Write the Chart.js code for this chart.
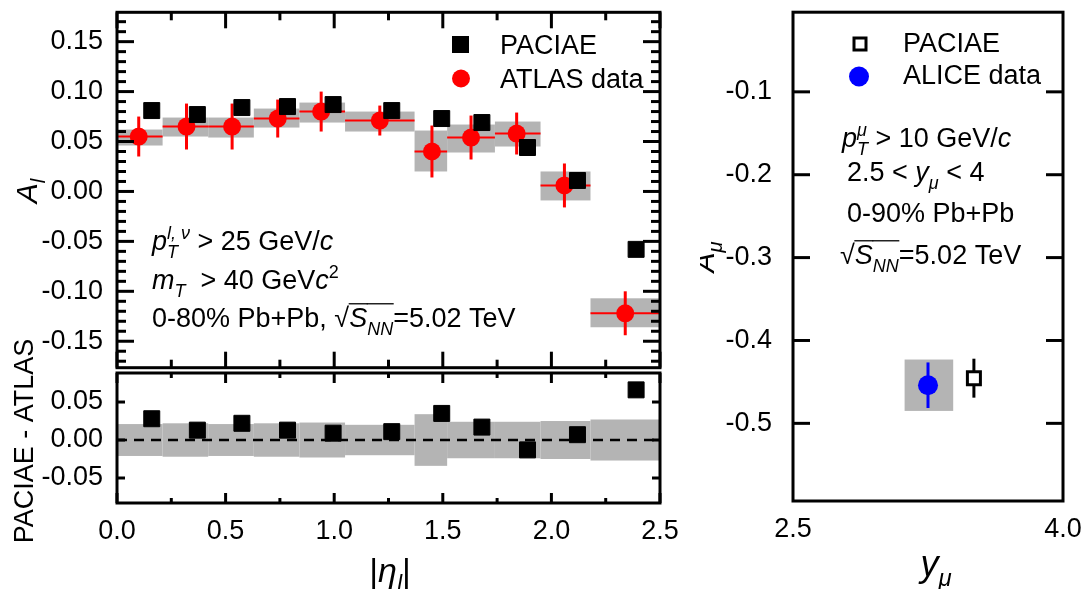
<!DOCTYPE html>
<html>
<head>
<meta charset="utf-8">
<script src="https://cdn.jsdelivr.net/npm/chart.js@4.4.1/dist/chart.umd.min.js"></script>
<style>
  body { margin: 0; background: #fff; width: 1084px; height: 589px; overflow: hidden; position: relative; }
  canvas { position: absolute; }
  #cTop { left: 0; top: 0; }
  #cBot { left: 0; top: 300px; }
  #cRight { left: 700px; top: 0; }
</style>
</head>
<body>
<canvas id="cTop" width="680" height="380"></canvas>
<canvas id="cBot" width="680" height="289"></canvas>
<canvas id="cRight" width="384" height="589"></canvas>
<script>
// ---- data ----
const etaBinLo = [0.00, 0.21, 0.42, 0.63, 0.84, 1.05, 1.37, 1.52, 1.74, 1.95, 2.18];
const etaBinHi = [0.21, 0.42, 0.63, 0.84, 1.05, 1.37, 1.52, 1.74, 1.95, 2.18, 2.50];
const atlasEta = [0.10, 0.32, 0.53, 0.74, 0.94, 1.21, 1.45, 1.63, 1.84, 2.06, 2.34];
const atlasA = [0.055, 0.065, 0.065, 0.073, 0.080, 0.071, 0.040, 0.054, 0.058, 0.006, -0.122];
const atlasStat = [0.020, 0.023, 0.023, 0.019, 0.020, 0.015, 0.026, 0.022, 0.021, 0.022, 0.022];
const atlasSysLo = [0.046, 0.055, 0.054, 0.064, 0.069, 0.060, 0.020, 0.039, 0.045, -0.009, -0.136];
const atlasSysHi = [0.062, 0.074, 0.074, 0.083, 0.089, 0.080, 0.061, 0.067, 0.070, 0.020, -0.107];
const paciaeEta = [0.16, 0.37, 0.575, 0.785, 0.995, 1.265, 1.495, 1.68, 1.89, 2.12, 2.39];
const paciaeA = [0.081, 0.077, 0.084, 0.085, 0.087, 0.081, 0.073, 0.069, 0.044, 0.011, -0.058];
const diffA = [0.028, 0.013, 0.022, 0.013, 0.009, 0.011, 0.035, 0.017, -0.013, 0.007, 0.066];
const diffBand = [0.021, 0.022, 0.021, 0.022, 0.023, 0.020, 0.034, 0.024, 0.024, 0.025, 0.027];
const zeroLineX = [0.0, 2.5];

const aliceY = [3.25];
const aliceA = [-0.454];
const aliceStat = [0.0275];
const aliceSysLo = [-0.485];
const aliceSysHi = [-0.423];
const aliceBinLo = [3.12];
const aliceBinHi = [3.39];
const paciaeMuY = [3.505];
const paciaeMuA = [-0.4455];
const paciaeMuErr = [0.0235];

// ticks
const topYTicks = [-0.15, -0.10, -0.05, 0.00, 0.05, 0.10, 0.15];
const botYTicks = [-0.05, 0.00, 0.05];
const etaTicks = [0.0, 0.5, 1.0, 1.5, 2.0, 2.5];
const etaMinor = [0.25, 0.75, 1.25, 1.75, 2.25];
const rightYTicks = [-0.5, -0.4, -0.3, -0.2, -0.1];
const rapTicks = [2.5, 4.0];

const FONT = '"Liberation Sans", Arial, sans-serif';
const FS = 27;
const RED = '#ff0000', BLUE = '#0000ff', GRAY = '#b4b4b4';

// ---- helpers ----
function layoutRich(ctx, parts, size) {
  const items = [];
  let cx = 0, hold = null;
  for (const [t, s] of parts) {
    const small = s.includes('b') || s.includes('p');
    const fs = small ? Math.round(size * 0.68) : size;
    const font = (s.includes('i') ? 'italic ' : '') + fs + 'px ' + FONT;
    ctx.font = font;
    const w = ctx.measureText(t).width;
    const dy = s.includes('b') ? size * 0.28 : s.includes('p') ? -size * 0.42 : 0;
    items.push({ t, font, x: cx, dy, w, over: s.includes('o') });
    if (s.includes('k')) { hold = w; }
    else { cx += hold !== null ? Math.max(hold, w) : w; hold = null; }
  }
  return { items, width: cx };
}
function drawRich(ctx, x, y, parts, size, center) {
  const L = layoutRich(ctx, parts, size);
  const x0 = center ? x - L.width / 2 : x;
  ctx.save();
  ctx.fillStyle = '#000';
  ctx.textAlign = 'left';
  ctx.textBaseline = 'alphabetic';
  for (const it of L.items) {
    ctx.font = it.font;
    ctx.fillText(it.t, x0 + it.x, y + it.dy);
    if (it.over) {
      ctx.strokeStyle = '#000';
      ctx.lineWidth = 1.3;
      ctx.beginPath();
      ctx.moveTo(x0 + it.x - 0.5, y - size * 0.86);
      ctx.lineTo(x0 + it.x + it.w + 0.5, y - size * 0.86);
      ctx.stroke();
    }
  }
  ctx.restore();
}
function drawRotated(ctx, x, y, parts, size) {
  ctx.save();
  ctx.translate(x, y);
  ctx.rotate(-Math.PI / 2);
  drawRich(ctx, 0, 0, parts, size, true);
  ctx.restore();
}
function seg(ctx, x0, y0, x1, y1) {
  ctx.beginPath(); ctx.moveTo(x0, y0); ctx.lineTo(x1, y1); ctx.stroke();
}
// frame with inward ticks
function drawFrame(chart, spec) {
  const { ctx, chartArea: a, scales: { x, y } } = chart;
  ctx.save();
  ctx.strokeStyle = '#000';
  ctx.lineWidth = 3;
  (spec.x || []).forEach(([vals, len]) => vals.forEach(v => {
    const px = x.getPixelForValue(v);
    if (spec.top) seg(ctx, px, a.top, px, a.top + len);
    if (spec.bottom) seg(ctx, px, a.bottom, px, a.bottom - len);
  }));
  (spec.y || []).forEach(([vals, len]) => vals.forEach(v => {
    const py = y.getPixelForValue(v);
    seg(ctx, a.left, py, a.left + len, py);
    seg(ctx, a.right, py, a.right - len, py);
  }));
  ctx.strokeRect(a.left, a.top, a.right - a.left, a.bottom - a.top);
  ctx.restore();
}
function yAxis(min, max, ticks, dec, width, pad) {
  return {
    type: 'linear', min, max,
    grid: { display: false, drawTicks: false }, border: { display: false },
    afterBuildTicks: s => { s.ticks = ticks.map(v => ({ value: v })); },
    afterFit: s => { s.width = width; s.paddingTop = 0; s.paddingBottom = 0; },
    ticks: { color: '#000', autoSkip: false, padding: pad, font: { family: FONT, size: FS }, callback: v => v.toFixed(dec) }
  };
}
function xAxis(min, max, ticks, dec, height, pad) {
  return {
    type: 'linear', position: 'bottom', min, max,
    grid: { display: false, drawTicks: false }, border: { display: false },
    afterBuildTicks: s => { s.ticks = ticks.map(v => ({ value: v })); },
    afterFit: s => { s.height = height; s.paddingLeft = 0; s.paddingRight = 0; },
    ticks: { color: '#000', autoSkip: false, maxRotation: 0, padding: pad, font: { family: FONT, size: FS }, callback: v => v.toFixed(dec) }
  };
}
const common = {
  responsive: false, animation: false, devicePixelRatio: 1, events: [],
  plugins: { legend: { display: false }, tooltip: { enabled: false } }
};
const pts = (xs, ys) => xs.map((v, i) => ({ x: v, y: ys[i] }));

const topMinorY = [];
for (let i = -17; i <= 17; i++) if (i % 5 !== 0) topMinorY.push(i / 100);

// ---- top panel ----
const topDecor = {
  id: 'topDecor',
  beforeDatasetsDraw(chart) {
    const { ctx, scales: { x, y } } = chart;
    ctx.save();
    ctx.fillStyle = GRAY;
    etaBinLo.forEach((lo, i) => {
      const x0 = x.getPixelForValue(lo), x1 = x.getPixelForValue(etaBinHi[i]);
      const y0 = y.getPixelForValue(atlasSysHi[i]), y1 = y.getPixelForValue(atlasSysLo[i]);
      ctx.fillRect(x0, y0, x1 - x0, y1 - y0);
    });
    ctx.strokeStyle = RED;
    atlasEta.forEach((v, i) => {
      const px = x.getPixelForValue(v), py = y.getPixelForValue(atlasA[i]);
      ctx.lineWidth = 2;
      seg(ctx, x.getPixelForValue(etaBinLo[i]), py, x.getPixelForValue(etaBinHi[i]), py);
      ctx.lineWidth = 3;
      seg(ctx, px, y.getPixelForValue(atlasA[i] + atlasStat[i]), px, y.getPixelForValue(atlasA[i] - atlasStat[i]));
    });
    ctx.restore();
  },
  afterDraw(chart) {
    const ctx = chart.ctx;
    drawFrame(chart, { top: true, bottom: true, x: [[etaTicks, 16], [etaMinor, 8]], y: [[topYTicks, 17], [topMinorY, 9]] });
    // legend
    ctx.save();
    ctx.fillStyle = '#000';
    ctx.fillRect(452, 36, 17, 17);
    ctx.fillStyle = RED;
    ctx.beginPath(); ctx.arc(461, 78.5, 9, 0, Math.PI * 2); ctx.fill();
    ctx.restore();
    drawRich(ctx, 500, 54, [['PACIAE', '']], FS);
    drawRich(ctx, 500, 88, [['ATLAS data', '']], FS);
    // annotations
    drawRich(ctx, 152, 250, [['p', 'i'], ['l, ν', 'ipk'], ['T', 'ib'], [' > 25 GeV/', ''], ['c', 'i']], FS);
    drawRich(ctx, 152, 289, [['m', 'i'], ['T', 'ib'], ['  > 40 GeV', ''], ['c', 'i'], ['2', 'p']], FS);
    drawRich(ctx, 152, 327, [['0-80% Pb+Pb, ', ''], ['√', ''], ['S', 'io'], ['NN', 'ibo'], ['=5.02 TeV', '']], FS);
    drawRotated(ctx, 37, 191, [['A', 'i'], ['l', 'ib']], 30);
  }
};
new Chart(document.getElementById('cTop'), {
  type: 'scatter',
  data: {
    datasets: [
      { label: 'PACIAE', data: pts(paciaeEta, paciaeA), pointStyle: 'rect', pointRadius: 11.3,
        pointBackgroundColor: '#000', pointBorderColor: '#000', pointBorderWidth: 1, order: 0 },
      { label: 'ATLAS data', data: pts(atlasEta, atlasA), pointStyle: 'circle', pointRadius: 9,
        pointBackgroundColor: RED, pointBorderColor: RED, pointBorderWidth: 0, order: 1 }
    ]
  },
  options: {
    ...common,
    layout: { padding: { top: 10, right: 20, bottom: 7, left: 0 } },
    scales: {
      x: { type: 'linear', min: 0, max: 2.5, display: false },
      y: yAxis(-0.1765, 0.1794, topYTicks, 2, 117, 14)
    }
  },
  plugins: [topDecor]
});

// ---- ratio panel ----
const botDecor = {
  id: 'botDecor',
  beforeDatasetsDraw(chart) {
    const { ctx, scales: { x, y } } = chart;
    ctx.save();
    ctx.fillStyle = GRAY;
    etaBinLo.forEach((lo, i) => {
      const x0 = x.getPixelForValue(lo), x1 = x.getPixelForValue(etaBinHi[i]);
      const y0 = y.getPixelForValue(diffBand[i]), y1 = y.getPixelForValue(-diffBand[i]);
      ctx.fillRect(x0, y0, x1 - x0, y1 - y0);
    });
    ctx.restore();
  },
  afterDraw(chart) {
    const ctx = chart.ctx;
    drawFrame(chart, { top: true, bottom: true, x: [[etaTicks, 10], [etaMinor, 5]], y: [[botYTicks, 8]] });
    drawRotated(ctx, 33, 141, [['PACIAE - ATLAS', '']], FS);
    drawRich(ctx, 390, 282, [['|', ''], ['η', 'i'], ['l', 'ib'], ['|', '']], 34, true);
  }
};
new Chart(document.getElementById('cBot'), {
  type: 'scatter',
  data: {
    datasets: [
      { label: 'PACIAE - ATLAS', data: pts(paciaeEta, diffA), pointStyle: 'rect', pointRadius: 11.3,
        pointBackgroundColor: '#000', pointBorderColor: '#000', pointBorderWidth: 1, order: 0 },
      { type: 'line', label: 'zero', data: pts(zeroLineX, [0, 0]), borderColor: '#000', borderWidth: 2.5,
        borderDash: [10, 7], pointRadius: 0, order: 1 }
    ]
  },
  options: {
    ...common,
    layout: { padding: { top: 73, right: 20, bottom: 0, left: 0 } },
    scales: {
      x: xAxis(0, 2.5, etaTicks, 1, 86, 12),
      y: yAxis(-0.0829, 0.0882, botYTicks, 2, 117, 14)
    }
  },
  plugins: [botDecor]
});

// ---- right panel ----
const rightDecor = {
  id: 'rightDecor',
  beforeDatasetsDraw(chart) {
    const { ctx, scales: { x, y } } = chart;
    ctx.save();
    ctx.fillStyle = GRAY;
    aliceY.forEach((v, i) => {
      const x0 = x.getPixelForValue(aliceBinLo[i]), x1 = x.getPixelForValue(aliceBinHi[i]);
      const y0 = y.getPixelForValue(aliceSysHi[i]), y1 = y.getPixelForValue(aliceSysLo[i]);
      ctx.fillRect(x0, y0, x1 - x0, y1 - y0);
      ctx.strokeStyle = BLUE; ctx.lineWidth = 3;
      const px = x.getPixelForValue(v);
      seg(ctx, px, y.getPixelForValue(aliceA[i] + aliceStat[i]), px, y.getPixelForValue(aliceA[i] - aliceStat[i]));
    });
    ctx.strokeStyle = '#000'; ctx.lineWidth = 3;
    paciaeMuY.forEach((v, i) => {
      const px = x.getPixelForValue(v);
      seg(ctx, px, y.getPixelForValue(paciaeMuA[i] + paciaeMuErr[i]), px, y.getPixelForValue(paciaeMuA[i] - paciaeMuErr[i]));
    });
    ctx.restore();
  },
  afterDraw(chart) {
    const ctx = chart.ctx;
    drawFrame(chart, { y: [[rightYTicks, 17]] });
    ctx.save();
    ctx.strokeStyle = '#000'; ctx.lineWidth = 3;
    ctx.strokeRect(154, 38, 12, 12);
    ctx.fillStyle = BLUE;
    ctx.beginPath(); ctx.arc(159, 76.5, 10, 0, Math.PI * 2); ctx.fill();
    ctx.restore();
    drawRich(ctx, 203, 52, [['PACIAE', '']], FS);
    drawRich(ctx, 203, 84, [['ALICE data', '']], FS);
    drawRich(ctx, 142, 147, [['p', 'i'], ['μ', 'ipk'], ['T', 'ib'], [' > 10 GeV/', ''], ['c', 'i']], FS);
    drawRich(ctx, 147, 181, [['2.5 < ', ''], ['y', 'i'], ['μ', 'ib'], [' < 4', '']], FS);
    drawRich(ctx, 147, 222, [['0-90% Pb+Pb', '']], FS);
    drawRich(ctx, 140, 264, [['√', ''], ['S', 'io'], ['NN', 'ibo'], ['=5.02 TeV', '']], FS);
    drawRotated(ctx, 14, 257, [['A', 'i'], ['μ', 'ib']], 30);
    drawRich(ctx, 236, 576, [['y', 'i'], ['μ', 'ib']], 36, true);
  }
};
new Chart(document.getElementById('cRight'), {
  type: 'scatter',
  data: {
    datasets: [
      { label: 'PACIAE', data: pts(paciaeMuY, paciaeMuA), pointStyle: 'rect', pointRadius: 9.2,
        pointBackgroundColor: '#fff', pointBorderColor: '#000', pointBorderWidth: 3, order: 0 },
      { label: 'ALICE data', data: pts(aliceY, aliceA), pointStyle: 'circle', pointRadius: 10,
        pointBackgroundColor: BLUE, pointBorderColor: BLUE, pointBorderWidth: 0, order: 1 }
    ]
  },
  options: {
    ...common,
    layout: { padding: { top: 10, right: 21, bottom: 0, left: 0 } },
    scales: {
      x: xAxis(2.5, 4.0, rapTicks, 1, 88, 12),
      y: yAxis(-0.5937, -0.0039, rightYTicks, 1, 93, 21)
    }
  },
  plugins: [rightDecor]
});
</script>
</body>
</html>
